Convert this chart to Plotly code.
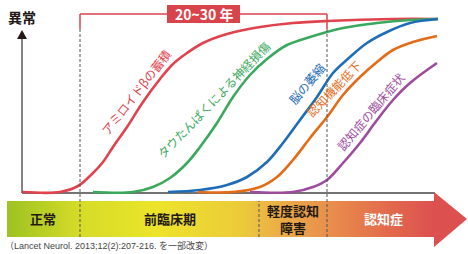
import plotly.graph_objects as go
import numpy as np

# ---- data (time position, abnormality level) ----
# level = 192 - pixel row of the curve
red_x = [22, 60, 78, 93, 103, 113, 127, 143, 160, 173, 187, 203, 227, 260, 293, 327, 393, 438]
red_y = [0, 0, 6, 19, 30, 45, 65, 90, 113, 128, 139, 149, 158, 165, 169, 171, 173, 173]

green_x = [93, 133, 153, 170, 187, 200, 217, 233, 250, 267, 287, 310, 343, 377, 410, 438]
green_y = [0, 0, 5, 14, 29, 45, 69, 95, 117, 133, 147, 155, 164, 169, 172, 173]

blue_x = [168, 200, 227, 247, 267, 283, 300, 317, 333, 350, 367, 387, 410, 438]
blue_y = [0, 2, 7, 15, 30, 49, 72, 95, 119, 135, 149, 160, 169, 173]

orange_x = [198, 233, 260, 277, 293, 310, 327, 343, 360, 377, 393, 413, 437]
orange_y = [0, 0, 5, 15, 32, 54, 75, 97, 115, 130, 142, 150, 156]

purple_x = [250, 293, 313, 327, 343, 360, 377, 393, 410, 437]
purple_y = [0, 0, 5, 12, 29, 49, 72, 92, 109, 129]

series_names = ["アミロイドβの蓄積", "タウたんぱくによる神経損傷", "脳の萎縮",
                "認知機能低下", "認知症の臨床症状"]
stage_labels = ["正常", "前臨床期", "軽度認知<br>障害", "認知症"]
bracket_label = "20~30 年"
y_label = "異常"
caption = "（Lancet Neurol. 2013;12(2):207-216. を一部改変）"

colors = ["#e0434d", "#3aa95d", "#1f6db6", "#e36c18", "#9d4b9d"]
JP = "Noto Sans CJK JP, Arial"

fig = go.Figure()

# gradient stage bar (x and y given as cell edges)
N = 220
bx = np.linspace(7, 435, N + 1)
fig.add_trace(go.Heatmap(
    x=bx, y=[-9, -45], z=[list(range(N))],
    colorscale=[[0.0, "#9ec322"], [0.17, "#d6dc28"], [0.35, "#ece42a"],
                [0.55, "#ecca3a"], [0.6, "#ebb843"], [0.75, "#e98f4c"],
                [0.9, "#e2684c"], [1.0, "#dc5050"]],
    zsmooth="best", showscale=False, hoverinfo="skip"))

for xs, ys, c, n in zip([red_x, green_x, blue_x, orange_x, purple_x],
                        [red_y, green_y, blue_y, orange_y, purple_y],
                        colors, series_names):
    fig.add_trace(go.Scatter(x=xs, y=ys, mode="lines", name=n,
                             line=dict(color=c, width=2.6, shape="spline", smoothing=1.0),
                             hoverinfo="skip"))

shapes = []
# axes
shapes.append(dict(type="line", x0=22, x1=435, y0=-1, y1=-1, line=dict(color="#444", width=1.5), layer="below"))
shapes.append(dict(type="line", x0=22, x1=22, y0=-1, y1=154, line=dict(color="#6b6262", width=1.6)))
shapes.append(dict(type="path", path="M 17,153 L 22,162 L 27,153 Z", fillcolor="#231815", line=dict(width=0)))
# arrow head of bar
shapes.append(dict(type="path", path="M 434,0 L 467,-27 L 434,-55 Z", fillcolor="#dc5050", line=dict(width=0)))
# dashed lines
for x0, ytop in [(80, 163), (327, 163)]:
    shapes.append(dict(type="line", x0=x0, x1=x0, y0=-45, y1=ytop, line=dict(color="#555", width=1, dash="3px,2px")))
shapes.append(dict(type="line", x0=259, x1=259, y0=-45, y1=-9, line=dict(color="#555", width=1, dash="3px,2px")))
# bracket
for x0 in (80, 327):
    shapes.append(dict(type="line", x0=x0, x1=x0, y0=163, y1=178, line=dict(color="#d9434a", width=1.5)))
shapes.append(dict(type="line", x0=80, x1=327, y0=178, y1=178, line=dict(color="#d9434a", width=1.5)))
shapes.append(dict(type="rect", x0=167, x1=240, y0=169, y1=187, fillcolor="#d9434a", line=dict(width=0)))

annotations = []
annotations.append(dict(x=203.5, y=178, text=bracket_label, showarrow=False,
                        font=dict(family=JP, size=14, color="white", weight="bold")))
annotations.append(dict(x=22, y=175, text=y_label, showarrow=False,
                        font=dict(family=JP, size=14, color="#231815", weight="bold")))
# curve labels (position, angle)
lab_pos = [(135, 92, -52), (213, 99, -46), (306, 83, -50), (333, 88, -46), (370, 111, -50)]
for (px, py, ang), n, c in zip(lab_pos, series_names, colors):
    annotations.append(dict(x=px, y=192 - py, text=n, showarrow=False, textangle=ang,
                            font=dict(family=JP, size=12, color=c)))
# stage labels
stage_pos = [(43, -26, "#231815"), (170, -26, "#231815"), (293, -27, "#231815"), (383, -26, "white")]
for (sx, sy, sc), t in zip(stage_pos, stage_labels):
    annotations.append(dict(x=sx, y=sy, text=t, showarrow=False,
                            font=dict(family=JP, size=13, color=sc, weight="bold")))
annotations.append(dict(x=3, y=-53, xanchor="left", text=caption, showarrow=False,
                        font=dict(family="Arial, Noto Sans CJK JP", size=9, color="#444")))

fig.update_layout(
    width=468, height=254, margin=dict(l=0, r=0, t=0, b=0),
    paper_bgcolor="white", plot_bgcolor="white", showlegend=False,
    xaxis=dict(range=[0, 468], visible=False, fixedrange=True),
    yaxis=dict(range=[-62, 192], visible=False, fixedrange=True),
    shapes=shapes, annotations=annotations,
)

fig.write_html("out.html", config={"displayModeBar": False},
               post_script="document.body.style.margin='0';document.body.style.overflow='hidden';")
